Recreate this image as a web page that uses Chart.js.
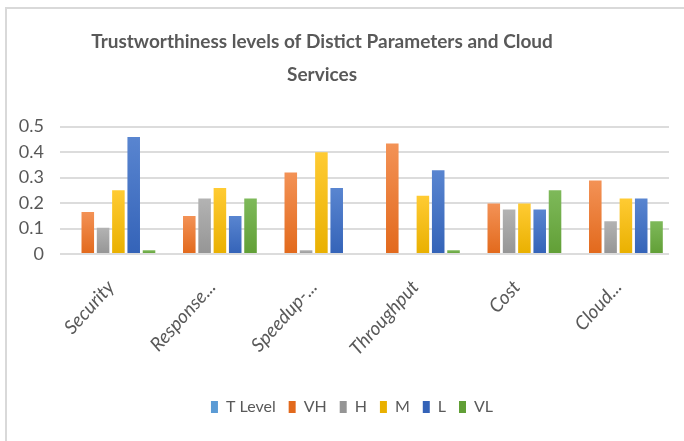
<!DOCTYPE html>
<html>
<head>
<meta charset="utf-8">
<script src="https://cdn.jsdelivr.net/npm/chart.js@4.4.1/dist/chart.umd.min.js"></script>
<style>
    html, body { margin: 0; padding: 0; background: #fff; overflow: hidden; }
    .frame {
        position: absolute;
        left: 5px;
        top: 7px;
        width: 677px;
        height: 432px;
        border-top: 2px solid #d9d9d9;
        border-left: 2px solid #d9d9d9;
    }
    .frame canvas { display: block; }
</style>
</head>
<body>
<div class="frame"><canvas id="trustChart" width="677" height="432"></canvas></div>
<script>
// Parameters / services along the x axis
const categories = ['Security', 'Response...', 'Speedup-...', 'Throughput', 'Cost', 'Cloud...'];

// Trust level shares per parameter
const tLevel = [0, 0, 0, 0, 0, 0];
const vh = [0.165, 0.149, 0.32, 0.434, 0.198, 0.288];
const h = [0.103, 0.218, 0.015, 0, 0.175, 0.129];
const m = [0.25, 0.259, 0.399, 0.229, 0.198, 0.218];
const l = [0.459, 0.149, 0.259, 0.329, 0.175, 0.218];
const vl = [0.015, 0.218, 0, 0.015, 0.25, 0.129];

const yTicks = [0, 0.1, 0.2, 0.3, 0.4, 0.5];

const textColor = '#595959';

// Each bar is shaded lighter at its top and darker at the baseline
function barFill(base, light, dark) {
    return function(ctx) {
        const chart = ctx.chart;
        if (!chart.chartArea || ctx.type !== 'data' || !ctx.parsed) return base;
        const yScale = chart.scales.y;
        const top = yScale.getPixelForValue(ctx.parsed.y);
        const bottom = yScale.getPixelForValue(0);
        if (bottom - top < 1) return base;
        const g = chart.ctx.createLinearGradient(0, top, 0, bottom);
        g.addColorStop(0, light);
        g.addColorStop(1, dark);
        return g;
    };
}

function series(label, data, base, light, dark) {
    return {
        label: label,
        data: data,
        backgroundColor: barFill(base, light, dark),
        borderWidth: 0,
        categoryPercentage: 0.905,
        barPercentage: 0.82
    };
}

// Title sits a bit left of the canvas centre, the legend row a bit right
const boxShift = {
    id: 'boxShift',
    afterLayout(chart) {
        const lg = chart.legend;
        if (lg) {
            lg.left += 14;
            lg.right += 14;
        }
        const tt = chart.titleBlock;
        if (tt) {
            tt.left -= 16;
            tt.right -= 16;
        }
    }
};

const ctx = document.getElementById('trustChart').getContext('2d');
new Chart(ctx, {
    type: 'bar',
    data: {
        labels: categories,
        datasets: [
            series('T Level', tLevel, '#5B9BD5', '#6FA8DC', '#4A8ACB'),
            series('VH', vh, '#ED7D31', '#F39256', '#E2691C'),
            series('H', h, '#A5A5A5', '#B3B3B3', '#959595'),
            series('M', m, '#FFC000', '#FFCB33', '#E9B000'),
            series('L', l, '#4472C4', '#5985D0', '#3463B8'),
            series('VL', vl, '#70AD47', '#7EB95A', '#619F36')
        ]
    },
    options: {
        responsive: false,
        animation: false,
        layout: {
            padding: { left: 0, right: 15, top: 0, bottom: 16 }
        },
        plugins: {
            title: {
                display: true,
                text: ['Trustworthiness levels of Distict Parameters and Cloud', 'Services'],
                color: textColor,
                font: { family: 'Lato', size: 19, weight: 'bold', lineHeight: 1.7 },
                padding: { top: 17, bottom: 36 }
            },
            legend: {
                position: 'bottom',
                labels: {
                    color: textColor,
                    font: { family: 'Lato', size: 16 },
                    boxWidth: 7,
                    boxHeight: 12,
                    padding: 13
                }
            },
            tooltip: { enabled: false }
        },
        scales: {
            x: {
                grid: { display: false },
                border: { display: false },
                ticks: {
                    color: textColor,
                    font: { family: 'Lato', size: 19, style: 'italic' },
                    minRotation: 48,
                    maxRotation: 48,
                    autoSkip: false,
                    padding: 14
                },
                afterFit: function(scale) {
                    scale.height = 132;
                }
            },
            y: {
                min: 0,
                max: 0.5,
                grid: { color: '#dcdcdc', lineWidth: 2, drawTicks: false },
                border: { display: false },
                afterBuildTicks: function(scale) {
                    scale.ticks = yTicks.map(v => ({ value: v }));
                },
                ticks: {
                    color: textColor,
                    font: { family: 'Lato', size: 18 },
                    padding: 16,
                    autoSkip: false,
                    callback: v => String(v)
                },
                afterFit: function(scale) {
                    scale.width = 53;
                }
            }
        }
    },
    plugins: [boxShift]
});
</script>
</body>
</html>
